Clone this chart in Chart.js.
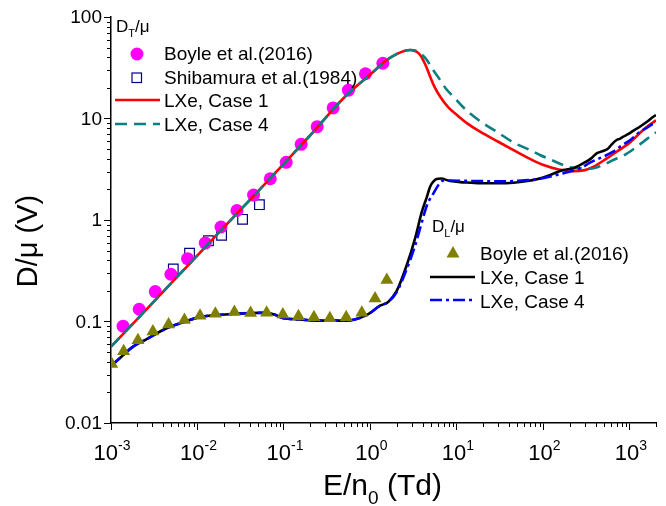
<!DOCTYPE html>
<html>
<head>
<meta charset="utf-8">
<script src="https://cdn.jsdelivr.net/npm/chart.js@4.4.0/dist/chart.umd.min.js"></script>
<style>
  html, body { margin: 0; padding: 0; background: #fff; }
</style>
</head>
<body>
<canvas id="myChart" width="666" height="506"></canvas>
<script>
// D_T/mu, Boyle et al. (2016)
const boyleTx = [0.00138, 0.00212, 0.00325, 0.00493, 0.00767, 0.0123, 0.0187, 0.0286, 0.0445, 0.0694, 0.106, 0.158, 0.242, 0.370, 0.556, 0.875, 1.39]
const boyleTy = [0.090, 0.132, 0.197, 0.292, 0.416, 0.593, 0.853, 1.24, 1.76, 2.55, 3.70, 5.57, 8.30, 12.7, 19.0, 27.6, 35.0]
// D_T/mu, Shibamura et al. (1984)
const shibaX = [0.00525, 0.00809, 0.0134, 0.0190, 0.0332, 0.052]
const shibaY = [0.329, 0.471, 0.625, 0.707, 1.016, 1.415]
// D_T/mu, LXe case 1 and case 4
const case1Tx = [0.001, 0.002, 0.005, 0.01, 0.02, 0.05, 0.1, 0.2, 0.5, 1, 1.5, 2, 2.5, 2.9, 3.4, 3.75, 4.3, 4.9, 5.5, 6.4, 8, 10, 13, 18.5, 30, 45, 70, 100, 150, 220, 300, 380, 540, 700, 1000, 1300, 1600, 2000]
const case1Ty = [0.0565, 0.105, 0.240, 0.449, 0.84, 1.91, 3.6, 6.8, 16.2, 27.3, 37, 43, 46.5, 47.3, 45.5, 42.2, 34, 25.8, 20.5, 16.4, 12.8, 10.8, 9.0, 7.41, 5.9, 4.89, 4.0, 3.48, 3.15, 3.03, 3.1, 3.35, 4.05, 4.7, 5.8, 7.2, 8.4, 9.6]
const case4Tx = [0.001, 0.002, 0.005, 0.01, 0.02, 0.05, 0.1, 0.2, 0.5, 1, 1.5, 2, 2.5, 2.9, 3.4, 4.0, 4.48, 5.3, 6.38, 7.5, 9.08, 11.5, 14.2, 20, 28.8, 45, 70, 91, 120, 169, 203, 288, 345, 490, 640, 837, 1100, 1426, 1700, 2000]
const case4Ty = [0.0565, 0.105, 0.240, 0.449, 0.84, 1.91, 3.6, 6.8, 16.2, 27.3, 37, 43, 46.5, 47.3, 46.5, 42, 37.7, 30, 24, 19.5, 16.4, 13.2, 11.2, 9.0, 7.41, 5.8, 4.89, 4.37, 3.95, 3.48, 3.30, 3.22, 3.2, 3.48, 3.9, 4.3, 5.0, 5.9, 6.62, 7.3]
// D_L/mu, Boyle et al. (2016)
const boyleLx = [0.00102, 0.0014, 0.00205, 0.00305, 0.00463, 0.00706, 0.0107, 0.0161, 0.0267, 0.0411, 0.063, 0.097, 0.147, 0.222, 0.339, 0.524, 0.794, 1.13, 1.545]
const boyleLy = [0.0381, 0.0510, 0.0653, 0.0797, 0.0934, 0.1035, 0.1138, 0.1194, 0.124, 0.1213, 0.1222, 0.1172, 0.1125, 0.110, 0.1075, 0.110, 0.122, 0.1685, 0.2564]
// D_L/mu, LXe case 1 and case 4
const case1Lx = [0.001, 0.0013, 0.0018, 0.0025, 0.0044, 0.007, 0.0108, 0.0261, 0.05, 0.0634, 0.08, 0.0986, 0.15, 0.24, 0.533, 0.907, 1.29, 1.6, 2.01, 2.63, 3.28, 3.92, 4.5, 4.89, 5.4, 5.84, 6.5, 8.32, 12, 18.5, 30, 44.9, 65, 83.5, 120, 169, 221, 288, 350, 412, 480, 550, 620, 701, 760, 837, 950, 1100, 1300, 1600, 1860, 2000]
const case1Ly = [0.0365, 0.0445, 0.0565, 0.066, 0.0857, 0.099, 0.111, 0.1186, 0.1215, 0.122, 0.116, 0.1075, 0.105, 0.102, 0.102, 0.116, 0.143, 0.156, 0.2, 0.36, 0.66, 1.2, 1.7, 2.13, 2.42, 2.54, 2.56, 2.42, 2.35, 2.30, 2.30, 2.33, 2.42, 2.52, 2.78, 3.11, 3.24, 3.62, 4.0, 4.54, 4.75, 5.0, 5.6, 6.14, 6.3, 6.62, 7.0, 7.6, 8.3, 9.4, 10.4, 10.8]
const case4Lx = [0.001, 0.0013, 0.0018, 0.0025, 0.0044, 0.007, 0.0108, 0.0261, 0.05, 0.0634, 0.08, 0.0986, 0.15, 0.24, 0.533, 0.907, 1.29, 1.6, 2.01, 2.63, 3.28, 3.92, 4.5, 5.34, 6.2, 6.97, 8.32, 12, 18.5, 30, 44.9, 65, 83.5, 120, 169, 264, 350, 490, 641, 800, 1000, 1303, 1560, 2000]
const case4Ly = [0.0365, 0.0445, 0.0565, 0.066, 0.0857, 0.099, 0.111, 0.1186, 0.1215, 0.122, 0.116, 0.1075, 0.105, 0.102, 0.102, 0.116, 0.143, 0.156, 0.195, 0.33, 0.56, 0.95, 1.4, 1.83, 2.25, 2.45, 2.45, 2.43, 2.42, 2.40, 2.42, 2.47, 2.52, 2.68, 2.88, 3.23, 3.7, 4.2, 4.71, 5.4, 6.1, 7.41, 8.1, 9.3]

const xTicks = [0.001, 0.01, 0.1, 1, 10, 100, 1000]
const xTickExp = ['-3', '-2', '-1', '0', '1', '2', '3']
const yTicks = [0.01, 0.1, 1, 10, 100]
const yTickLabels = ['0.01', '0.1', '1', '10', '100']

const FONT = 'Arial, "Liberation Sans", sans-serif'
const ctx = document.getElementById('myChart').getContext('2d')

function pts(xs, ys) {
    return xs.map((x, i) => ({x: x, y: ys[i]}))
}

function curve(xs, ys, color, dash) {
    return {
        data: pts(xs, ys),
        showLine: true,
        borderColor: color,
        borderWidth: 2.6,
        borderDash: dash,
        pointRadius: 0,
        cubicInterpolationMode: 'monotone',
        fill: false
    }
}

function font(size) {
    return size + 'px ' + FONT
}

// axis ticks labels, minor ticks, titles and the two inset legends
const decorations = {
    id: 'decorations',
    afterDraw(chart) {
        const c = chart.ctx
        const sx = chart.scales.x
        const sy = chart.scales.y
        const area = chart.chartArea
        c.save()
        c.strokeStyle = '#000'
        c.fillStyle = '#000'
        c.lineWidth = 1

        // minor ticks
        c.beginPath()
        for (let d = -3; d <= 3; d++) {
            for (let k = 2; k <= 9; k++) {
                const v = k * Math.pow(10, d)
                if (v >= sx.min && v <= sx.max) {
                    const px = Math.round(sx.getPixelForValue(v)) + 0.5
                    c.moveTo(px, area.bottom)
                    c.lineTo(px, area.bottom + 4)
                }
                if (v >= sy.min && v <= sy.max) {
                    const py = Math.round(sy.getPixelForValue(v)) + 0.5
                    c.moveTo(area.left, py)
                    c.lineTo(area.left - 4, py)
                }
            }
        }
        c.stroke()

        // y tick labels
        c.font = font(19)
        c.textAlign = 'right'
        c.textBaseline = 'middle'
        yTicks.forEach((v, i) => {
            c.fillText(yTickLabels[i], area.left - 9, sy.getPixelForValue(v) + 1)
        })

        // x tick labels with exponents
        c.textBaseline = 'alphabetic'
        c.textAlign = 'left'
        xTicks.forEach((v, i) => {
            const px = sx.getPixelForValue(v)
            c.font = font(22)
            const w1 = c.measureText('10').width
            c.font = font(14)
            const w2 = c.measureText(xTickExp[i]).width
            const x0 = px - (w1 + w2) / 2 + 1
            c.font = font(22)
            c.fillText('10', x0, 460)
            c.font = font(14)
            c.fillText(xTickExp[i], x0 + w1, 450)
        })

        // x axis title
        c.font = font(30)
        let x = 323
        c.fillText('E/n', x, 495)
        x += c.measureText('E/n').width
        c.font = font(19)
        c.fillText('0', x, 504)
        x += c.measureText('0').width
        c.font = font(30)
        c.fillText(' (Td)', x, 495)

        // y axis title
        c.save()
        c.translate(37, 241)
        c.rotate(-Math.PI / 2)
        c.textAlign = 'center'
        c.font = font(29)
        c.fillText('D/\u03bc (V)', 0, 0)
        c.restore()

        // legend headers
        function header(sub, x0, base) {
            c.textAlign = 'left'
            c.font = font(17)
            c.fillText('D', x0, base)
            let xx = x0 + c.measureText('D').width
            c.font = font(11)
            c.fillText(sub, xx, base + 5)
            xx += c.measureText(sub).width
            c.font = font(17)
            c.fillText('/\u03bc', xx, base)
        }
        header('T', 116, 32)
        header('L', 432, 232)

        c.font = font(19)
        c.textAlign = 'left'
        c.fillText('Boyle et al.(2016)', 164, 60)
        c.fillText('Shibamura et al.(1984)', 164, 83.5)
        c.fillText('LXe, Case 1', 164, 107)
        c.fillText('LXe, Case 4', 164, 131)
        c.fillText('Boyle et al.(2016)', 480, 260)
        c.fillText('LXe, Case 1', 480, 283.5)
        c.fillText('LXe, Case 4', 480, 307.5)

        // legend symbols
        c.fillStyle = '#ff00ff'
        c.beginPath()
        c.arc(137, 54, 6.5, 0, Math.PI * 2)
        c.fill()

        c.fillStyle = '#fff'
        c.strokeStyle = '#000080'
        c.lineWidth = 1.2
        c.fillRect(132, 73, 9.5, 9.5)
        c.strokeRect(132, 73, 9.5, 9.5)

        c.lineWidth = 2.6
        function seg(x0, x1, y, color, dash) {
            c.strokeStyle = color
            c.setLineDash(dash)
            c.beginPath()
            c.moveTo(x0, y)
            c.lineTo(x1, y)
            c.stroke()
        }
        seg(115, 160, 100, '#ff0000', [])
        seg(115, 160, 124, '#0b8080', [12, 7])
        seg(430, 475, 277, '#000000', [])
        seg(430, 475, 300, '#0000ff', [12, 4, 3, 4])
        c.setLineDash([])

        c.fillStyle = '#808000'
        c.beginPath()
        c.moveTo(453, 246)
        c.lineTo(459.5, 257.5)
        c.lineTo(446.5, 257.5)
        c.closePath()
        c.fill()

        c.restore()
    }
}

const chart = new Chart(ctx, {
    type: 'scatter',
    data: {
        datasets: [
            {
                label: 'Boyle et al.(2016) DL',
                data: pts(boyleLx, boyleLy),
                pointStyle: 'triangle',
                pointRadius: 7.5,
                backgroundColor: '#808000',
                borderColor: '#808000',
                borderWidth: 0
            },
            curve(case4Lx, case4Ly, '#0000ff', [12, 4, 3, 4]),
            curve(case1Lx, case1Ly, '#000000', []),
            curve(case4Tx, case4Ty, '#0b8080', [12, 7]),
            curve(case1Tx, case1Ty, '#ff0000', []),
            {
                label: 'Boyle et al.(2016) DT',
                data: pts(boyleTx, boyleTy),
                pointStyle: 'circle',
                pointRadius: 6.5,
                backgroundColor: '#ff00ff',
                borderColor: '#ff00ff',
                borderWidth: 0
            },
            {
                label: 'Shibamura et al.(1984)',
                data: pts(shibaX, shibaY),
                pointStyle: 'rect',
                pointRadius: 6.8,
                backgroundColor: '#ffffff',
                borderColor: '#000080',
                borderWidth: 1.2
            }
        ]
    },
    options: {
        responsive: false,
        animation: false,
        devicePixelRatio: 1,
        layout: {
            padding: {left: 104, right: 10, top: 17, bottom: 76}
        },
        plugins: {
            legend: {display: false},
            tooltip: {enabled: false}
        },
        scales: {
            x: {
                type: 'logarithmic',
                min: 0.001,
                max: 2000,
                afterBuildTicks: (scale) => { scale.ticks = xTicks.map(v => ({value: v})) },
                ticks: {display: false},
                grid: {display: true, drawOnChartArea: false, drawTicks: true, tickLength: 7, color: '#000', lineWidth: 1},
                border: {display: true, color: '#000', width: 1.5}
            },
            y: {
                type: 'logarithmic',
                min: 0.01,
                max: 100,
                afterBuildTicks: (scale) => { scale.ticks = yTicks.map(v => ({value: v})) },
                ticks: {display: false},
                grid: {display: true, drawOnChartArea: false, drawTicks: true, tickLength: 7, color: '#000', lineWidth: 1},
                border: {display: true, color: '#000', width: 1.5}
            }
        }
    },
    plugins: [decorations]
})
</script>
</body>
</html>
